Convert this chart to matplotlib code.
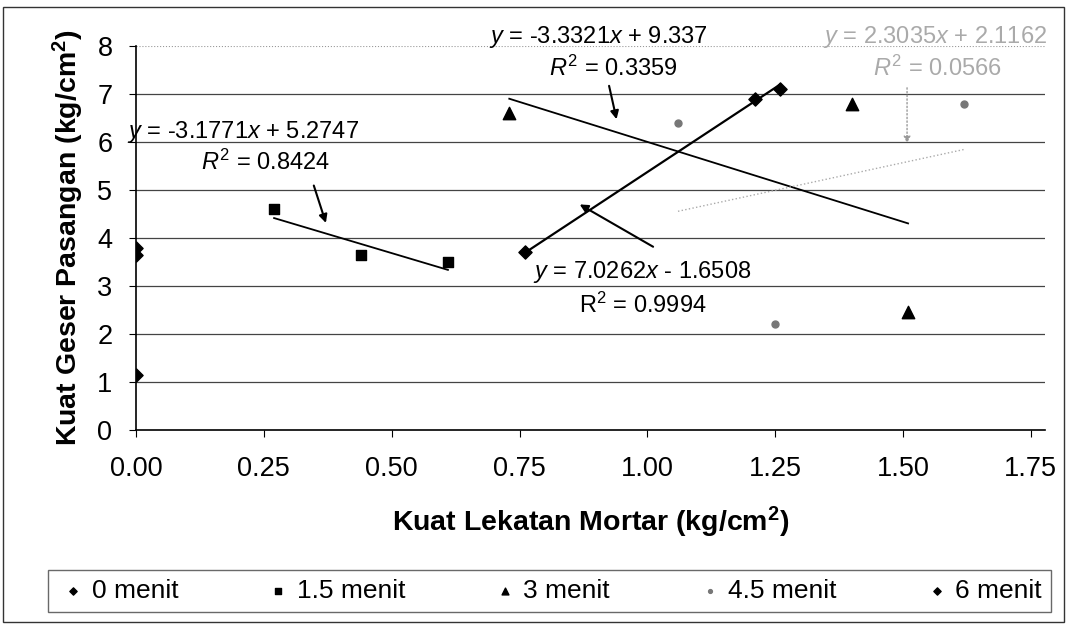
import matplotlib
matplotlib.use('Agg')
import matplotlib.pyplot as plt
from matplotlib.patches import Rectangle
import numpy as np

plt.rcParams['font.family'] = ['Liberation Sans', 'DejaVu Sans']
plt.rcParams['mathtext.fontset'] = 'custom'
plt.rcParams['mathtext.rm'] = 'Liberation Sans'
plt.rcParams['mathtext.it'] = 'Liberation Sans:italic'
plt.rcParams['mathtext.bf'] = 'Liberation Sans:bold'

# --- data ---
series_names = ['0 menit', '1.5 menit', '3 menit', '4.5 menit', '6 menit']
x_0 = [0.0, 0.0, 0.0]
y_0 = [3.8, 3.65, 1.15]
x_15 = [0.27, 0.44, 0.61]
y_15 = [4.6, 3.65, 3.5]
x_3 = [0.73, 1.40, 1.51]
y_3 = [6.6, 6.8, 2.45]
x_45 = [1.06, 1.25, 1.62]
y_45 = [6.4, 2.2, 6.8]
x_6 = [0.76, 1.21, 1.26]
y_6 = [3.7, 6.9, 7.1]

# trendline coefficients (slope, intercept)
fit_15 = (-3.1771, 5.2747)
fit_3 = (-3.3321, 9.337)
fit_45 = (2.3035, 2.1162)
fit_6 = (7.0262, -1.6508)

xticks = [0.00, 0.25, 0.50, 0.75, 1.00, 1.25, 1.50, 1.75]
yticks = [0, 1, 2, 3, 4, 5, 6, 7, 8]

fig = plt.figure(figsize=(10.67, 6.24), dpi=100)
ax = fig.add_axes([0.1275, 0.311, 0.8515, 0.615])

for y in yticks[1:-1]:
    ax.axhline(y, color='#444444', lw=0.9, zorder=1)
ax.axhline(yticks[-1], color='#999999', lw=0.8, ls=':', zorder=1)

def trend(xs, fit, **kw):
    xx = np.array([min(xs), max(xs)])
    ax.plot(xx, fit[0] * xx + fit[1], **kw)

trend(x_15, fit_15, color='black', lw=1.3, zorder=2)
trend(x_3, fit_3, color='black', lw=1.3, zorder=2)
trend(x_45, fit_45, color='#aaaaaa', lw=1.0, ls=':', zorder=2)
trend(x_6, fit_6, color='black', lw=1.6, zorder=2)

ax.scatter(x_0, y_0, marker='D', s=45, color='black', label=series_names[0], zorder=3)
ax.scatter(x_15, y_15, marker='s', s=50, color='black', label=series_names[1], zorder=3)
ax.scatter(x_3, y_3, marker='^', s=80, color='black', label=series_names[2], zorder=3)
ax.scatter(x_45, y_45, marker='o', s=25, color='#777777', label=series_names[3], zorder=3)
ax.scatter(x_6, y_6, marker='D', s=45, color='black', label=series_names[4], zorder=3)

ax.set_xlim(0, 1.777)
ax.set_ylim(0, 8)
ax.set_xticks(xticks)
ax.set_xticklabels([f'{v:.2f}' for v in xticks])
ax.set_yticks(yticks)
ax.tick_params(labelsize=19.5, length=5, direction='out')
ax.tick_params(axis='y', pad=12)
ax.tick_params(axis='x', pad=14)
ax.spines['top'].set_visible(False)
ax.spines['right'].set_visible(False)
ax.spines['left'].set_linewidth(1.2)
ax.spines['bottom'].set_linewidth(1.2)

ax.set_xlabel('Kuat Lekatan Mortar (kg/cm$^\\mathbf{2}$)', fontsize=20.5,
              fontweight='bold', labelpad=16)
ax.set_ylabel('Kuat Geser Pasangan (kg/cm$^\\mathbf{2}$)', fontsize=20.5,
              fontweight='bold', labelpad=8)

afs = 17
arrow_k = dict(arrowstyle='-|>', color='black', lw=1.5, mutation_scale=12)

ax.text(0.904, 8.19, '$y$ = -3.3321$x$ + 9.337', fontsize=afs, ha='center', va='center')
ax.text(0.934, 7.54, '$R^2$ = 0.3359', fontsize=afs, ha='center', va='center')
ax.annotate('', xy=(0.941, 6.42), xytext=(0.924, 7.23), arrowprops=arrow_k)

ax.text(0.209, 6.21, '$y$ = -3.1771$x$ + 5.2747', fontsize=afs, ha='center', va='center')
ax.text(0.254, 5.58, '$R^2$ = 0.8424', fontsize=afs, ha='center', va='center')
ax.annotate('', xy=(0.373, 4.26), xytext=(0.346, 5.15), arrowprops=arrow_k)

ax.text(0.990, 3.29, '$y$ = 7.0262$x$ - 1.6508', fontsize=afs, ha='center', va='center')
ax.text(0.992, 2.60, 'R$^2$ = 0.9994', fontsize=afs, ha='center', va='center')
ax.annotate('', xy=(0.863, 4.73), xytext=(1.016, 3.79), arrowprops=arrow_k)

ax.text(1.5625, 8.19, '$y$ = 2.3035$x$ + 2.1162', fontsize=afs, ha='center', va='center',
        color='#aaaaaa')
ax.text(1.568, 7.54, '$R^2$ = 0.0566', fontsize=afs, ha='center', va='center',
        color='#aaaaaa')
ax.annotate('', xy=(1.508, 5.92), xytext=(1.508, 7.19),
            arrowprops=dict(arrowstyle='-|>', color='#999999', lw=1.0, ls=':',
                            mutation_scale=10))

leg = fig.legend(loc='lower left', bbox_to_anchor=(0.045, 0.019, 0.94, 0.07),
                 mode='expand', ncol=5, frameon=True, fancybox=False,
                 edgecolor='#444444', handletextpad=0.1, borderpad=0.35,
                 borderaxespad=0, handlelength=1.2,
                 markerscale=0.55, scatterpoints=1,
                 prop={'family': ['Liberation Sans Narrow', 'Liberation Sans'], 'size': 19})

fig.patches.append(Rectangle((0.003, 0.004), 0.994, 0.985, transform=fig.transFigure,
                             fill=False, edgecolor='#333333', lw=1.0))

fig.savefig('out.png', dpi=100)
